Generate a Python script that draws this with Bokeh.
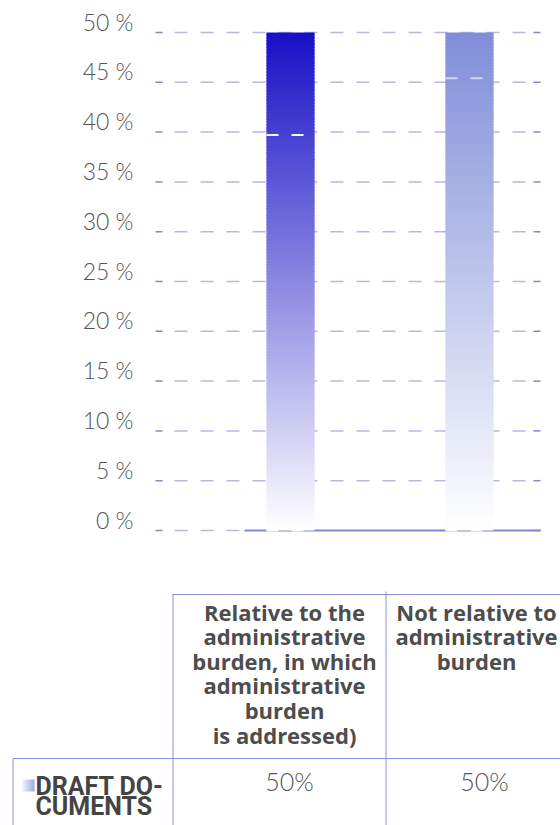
import numpy as np
from bokeh.plotting import figure
from bokeh.models import Range1d
from bokeh.core.properties import value
from bokeh.embed import file_html
from bokeh.resources import INLINE

# ---------------- data ----------------
categories = [
    "Relative to the\nadministrative\nburden, in which\nadministrative\nburden\nis addressed)",
    "Not relative to\nadministrative\nburden",
]
series_name = "DRAFT DO-\nCUMENTS"
series_values = [50, 50]
bar_top_colors = ["#1710c6", "#7f8ed8"]
y_ticks = [0, 5, 10, 15, 20, 25, 30, 35, 40, 45, 50]
tick_labels = ["0 %", "5 %", "10 %", "15 %", "20 %", "25 %", "30 %", "35 %", "40 %", "45 %", "50 %"]
value_labels = ["50%", "50%"]
marker_bar = [0, 1, 0, 1]
marker_value = [39.7, 45.4, 0, 0]
marker_alpha = [0.95, 0.6, 0.9, 0.9]

# ---------------- layout helpers (page pixel -> data) ----------------
UX, X0 = 179.0, 290.0   # px per category, page x of first category
UY, Y0 = 9.96, 530.0    # px per percent, page y of 0 %
def dx(px):
    return (px - X0) / UX
def dy(py):
    return (Y0 - py) / UY

W, H = 560, 825
p = figure(width=W, height=H, x_range=Range1d(dx(0), dx(560)), y_range=Range1d(dy(825), dy(0)),
           output_backend="svg", toolbar_location=None, min_border=0,
           x_axis_type=None, y_axis_type=None)
p.grid.visible = False
p.outline_line_color = None
p.background_fill_color = "white"

GRID = "#b4b8e2"
AXC = "#7f88d6"
TBL = "#8a92dc"

# gridlines
for t in y_ticks:
    p.segment(dx(155), t, dx(162), t, line_color=AXC, line_width=1.5)
    p.segment(dx(533), t, dx(540), t, line_color=AXC, line_width=1.5)
    if t == 0:
        p.segment(dx(174), t, dx(244), t, line_color=GRID, line_width=1.5, line_dash="13 13")
        p.segment(dx(244), t, dx(540), t, line_color=AXC, line_width=2)
    else:
        p.segment(dx(174), t, dx(530), t, line_color=GRID, line_width=1.5, line_dash="13 13")

# tick labels
TICKFONT = value("Lato Light, Lato")
p.text(x=[dx(133)] * len(y_ticks), y=y_ticks, text=tick_labels, text_align="right",
       text_baseline="middle", y_offset=-11, text_font=TICKFONT, text_font_size="23px",
       text_color="#555555")

# gradient bars
def mix(c, t):
    r, g, b = int(c[1:3], 16), int(c[3:5], 16), int(c[5:7], 16)
    r = int(round(r + (255 - r) * t)); g = int(round(g + (255 - g) * t)); b = int(round(b + (255 - b) * t))
    return "#%02x%02x%02x" % (r, g, b)

bw = 48.0 / UX
n = 160
for i, (v, c) in enumerate(zip(series_values, bar_top_colors)):
    bots = [v * k / n for k in range(n)]
    tops = [min(v, v * (k + 1) / n + v / n * 0.6) for k in range(n)]
    cols = [mix(c, 1 - (k + 0.5) / n) for k in range(n)]
    p.quad(left=[i - bw / 2] * n, right=[i + bw / 2] * n, bottom=bots, top=tops,
           fill_color=cols, line_color=None)

# white dashed markers over bars
for b, mv, a in zip(marker_bar, marker_value, marker_alpha):
    p.segment(b - bw / 2, mv, b + bw / 2, mv, line_color="white", line_width=2,
              line_dash="12 13", line_alpha=a)

# table lines
p.segment(dx(172), dy(594), dx(560), dy(594), line_color=TBL, line_width=1)
p.segment(dx(172.5), dy(594), dx(172.5), dy(825), line_color=TBL, line_width=1)
p.segment(dx(385.5), dy(591), dx(385.5), dy(825), line_color=TBL, line_width=1)
p.segment(dx(12.5), dy(758), dx(560), dy(758), line_color=TBL, line_width=1)
p.segment(dx(12.5), dy(758), dx(12.5), dy(825), line_color=TBL, line_width=1)

# header texts
head_cx = [284, 476]
for cx, cat in zip(head_cx, categories):
    lines = cat.split("\n")
    ys = [dy(611 + k * 24.6) for k in range(len(lines))]
    p.text(x=[dx(cx)] * len(lines), y=ys, text=lines, text_align="center",
           text_baseline="middle", text_font=value("Open Sans"), text_font_style="bold",
           text_font_size="22px", text_color="#4d4d4d")

# series row header
icon_n = 12
ix = np.linspace(22, 34, icon_n + 1)
p.quad(left=[dx(a) for a in ix[:-1]], right=[dx(a) for a in ix[1:]],
       bottom=[dy(791)] * icon_n, top=[dy(779)] * icon_n,
       fill_color=[mix("#8a92dc", 0.8 * (1 - k / (icon_n - 1))) for k in range(icon_n)],
       line_color=None)
name_lines = series_name.split("\n")
p.text(x=[dx(35)] * len(name_lines), y=[dy(786), dy(806)], text=name_lines,
       text_align="left", text_baseline="middle",
       text_font=value("Roboto"), text_font_style="bold",
       text_font_size="25px", text_color="#444444")

# values
p.text(x=[dx(289), dx(484)], y=[dy(780)] * 2, text=value_labels, text_align="center",
       text_baseline="middle", text_font=TICKFONT, text_font_size="25px",
       text_color="#555555")

open("out.html", "w").write(file_html(p, INLINE))
